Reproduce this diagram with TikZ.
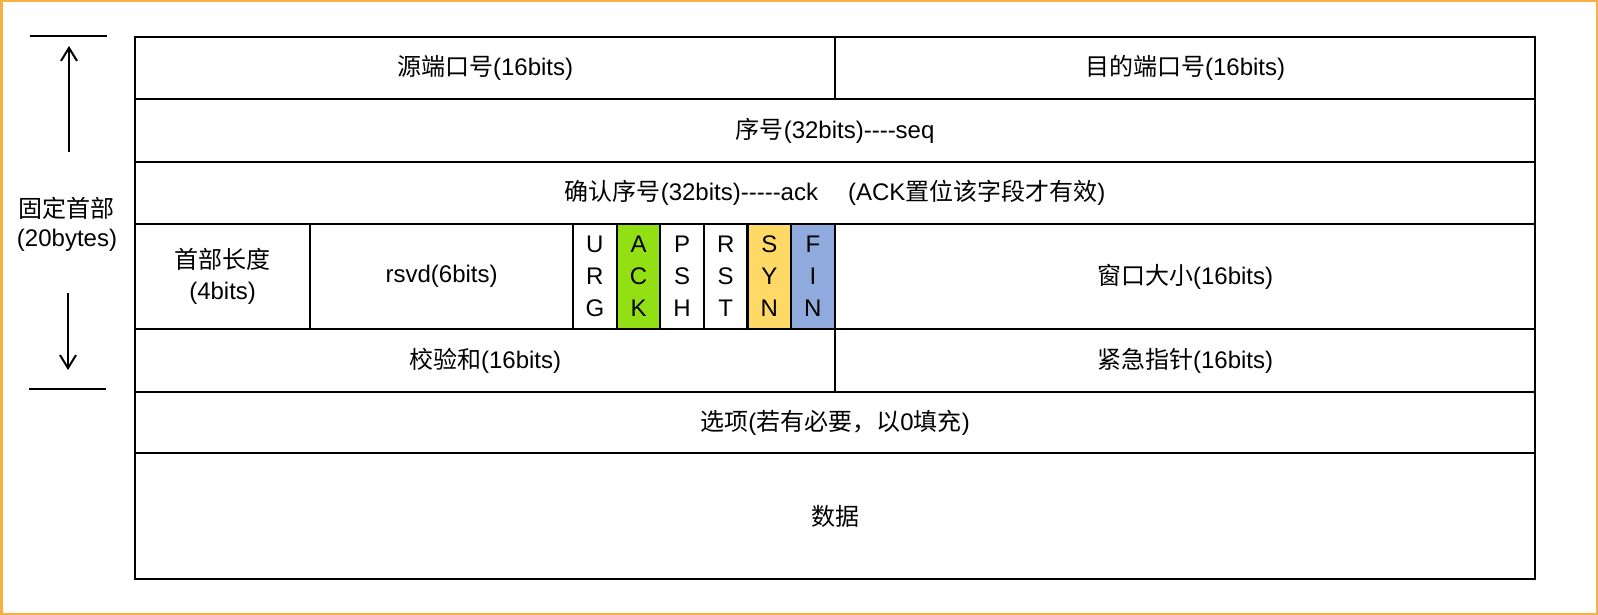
\documentclass[tikz,border=0pt]{standalone}
\usepackage{fontspec}
\setmainfont{Liberation Sans}
\newfontfamily\cjk{Noto Sans CJK SC}
\newcommand{\zh}[1]{{\cjk #1}}
\usetikzlibrary{arrows.meta}

\definecolor{ackgreen}{RGB}{146,224,20}
\definecolor{synyellow}{RGB}{255,217,102}
\definecolor{finblue}{RGB}{143,170,220}
\definecolor{frameorange}{RGB}{248,176,64}

\tikzset{
	cell/.style={draw, line width=2.2pt, anchor=north west, inner sep=0pt, align=center,
		font=\fontsize{24}{31}\selectfont},
	flag/.style={cell, minimum width=43.6pt, minimum height=105pt, font=\fontsize{24}{32}\selectfont},
}

\begin{document}
\begin{tikzpicture}[x=1pt,y=-1pt]
	\useasboundingbox (0,0) rectangle (1598,615);
	\draw[frameorange, line width=2.5pt] (1.25,1.25) rectangle (1596.75,613.75);

	% rows of the header
	\node[cell, minimum width=700pt, minimum height=62pt] (srcport) at (134,36) {\zh{源端口号}(16bits)};
	\node[cell, minimum width=700pt, minimum height=62pt] (dstport) at (834,36) {\zh{目的端口号}(16bits)};

	\node[cell, minimum width=1400pt, minimum height=63pt] (seq) at (134,98) {\zh{序号}(32bits)-{}-{}-{}-seq};

	\node[cell, minimum width=1400pt, minimum height=62pt] (acknum) at (134,161)
		{\zh{确认序号}(32bits)-{}-{}-{}-{}-ack\hspace{30pt}(ACK\zh{置位该字段才有效})};

	\node[cell, minimum width=175pt, minimum height=105pt] (hlen) at (134,223) {\zh{首部长度}\\(4bits)};
	\node[cell, minimum width=263pt, minimum height=105pt] (rsvd) at (309,223) {rsvd(6bits)};
	\node[flag] (URG) at (572,223) {U\\R\\G};
	\node[flag, fill=ackgreen] (ACK) at (615.6,223) {A\\C\\K};
	\node[flag] (PSH) at (659.2,223) {P\\S\\H};
	\node[flag] (RST) at (702.8,223) {R\\S\\T};
	\node[flag, fill=synyellow] (SYN) at (746.4,223) {S\\Y\\N};
	\node[flag, fill=finblue] (FIN) at (790,223) {F\\I\\N};
	\node[cell, minimum width=700pt, minimum height=105pt] (window) at (834,223) {\zh{窗口大小}(16bits)};

	\node[cell, minimum width=700pt, minimum height=63pt] (checksum) at (134,328) {\zh{校验和}(16bits)};
	\node[cell, minimum width=700pt, minimum height=63pt] (urgptr) at (834,328) {\zh{紧急指针}(16bits)};

	\node[cell, minimum width=1400pt, minimum height=61pt] (options) at (134,391) {\zh{选项}(\zh{若有必要，以}0\zh{填充})};
	\node[cell, minimum width=1400pt, minimum height=126pt] (data) at (134,452) {\zh{数据}};

	% fixed header bracket
	\coordinate (topL) at (30,36);
	\coordinate (topR) at (107,36);
	\coordinate (botL) at (29,389);
	\coordinate (botR) at (106,389);
	\coordinate (upS) at (69,152);
	\coordinate (upE) at (69,46);
	\coordinate (downS) at (68,293);
	\coordinate (downE) at (68,370);

	\draw[line width=2pt] (topL) -- (topR);
	\draw[line width=2pt] (botL) -- (botR);
	\draw[line width=2pt, -{Straight Barb[length=13pt,width=16pt]}] (upS) -- (upE);
	\draw[line width=2pt, -{Straight Barb[length=13pt,width=16pt]}] (downS) -- (downE);

	\node[align=center, inner sep=0pt, font=\fontsize{24}{29}\selectfont] (hdrlabel) at (67,224) {\zh{固定首部}\\(20bytes)};
\end{tikzpicture}
\end{document}
